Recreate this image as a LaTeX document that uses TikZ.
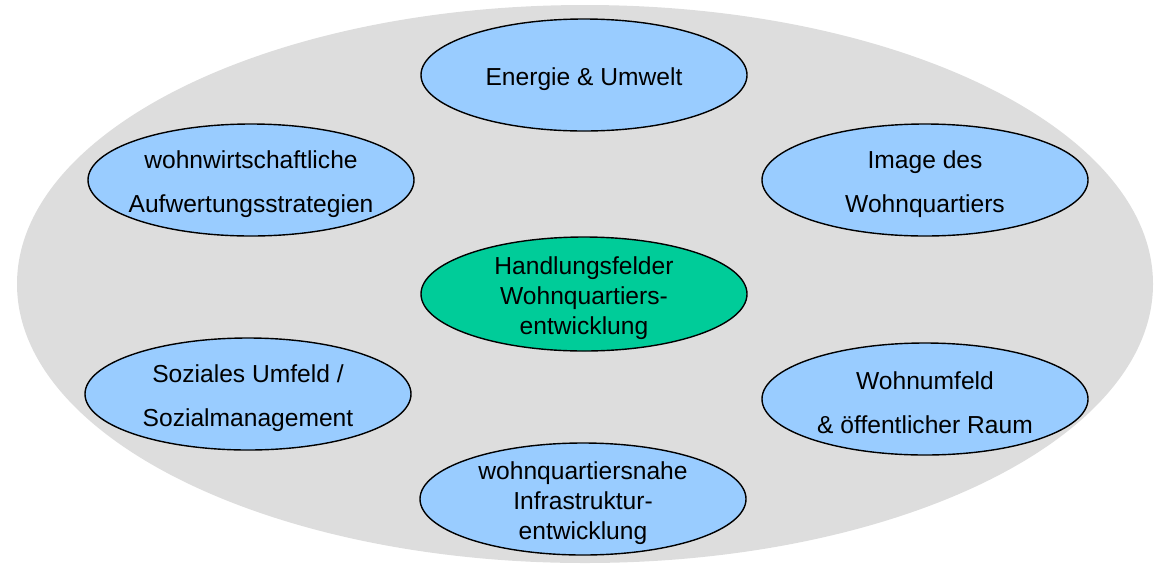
\documentclass[tikz,border=0pt]{standalone}
\usepackage{fontspec}
\setmainfont{Liberation Sans}
\usetikzlibrary{shapes.geometric}
\definecolor{bggray}{HTML}{DDDDDD}
\definecolor{fieldblue}{HTML}{99CCFF}
\definecolor{coregreen}{HTML}{00CC99}
\tikzset{
  field/.style={ellipse, draw=black, line width=1.4pt, fill=fieldblue,
    minimum width=326pt, minimum height=112pt, inner sep=0pt},
  core/.style={field, fill=coregreen, minimum height=114pt},
  fieldtext/.style={align=center, inner sep=0pt, yshift=-4pt,
    font=\fontsize{24.6}{44}\selectfont},
  tighttext/.style={fieldtext, font=\fontsize{24.6}{30}\selectfont}
}
\begin{document}
\begin{tikzpicture}[x=1pt,y=-1pt]
\useasboundingbox (0,0) rectangle (1162,566);
\begin{scope}
\clip (0,0) rectangle (1162,566);
\fill[bggray] (585,284) ellipse [x radius=568, y radius=279];
\end{scope}
\node[field] (energie) at (584,75) {};
\node[fieldtext] (energie-t) at (energie.center) {Energie \& Umwelt};
\node[field] (wohnw) at (251,180) {};
\node[fieldtext] (wohnw-t) at (wohnw.center) {wohnwirtschaftliche\\Aufwertungsstrategien};
\node[field] (image) at (925,180) {};
\node[fieldtext] (image-t) at (image.center) {Image des\\Wohnquartiers};
\node[core] (center) at (584,294) {};
\node[tighttext] (center-t) at (center.center) {Handlungsfelder\\Wohnquartiers-\\entwicklung};
\node[field] (sozial) at (248,394) {};
\node[fieldtext] (sozial-t) at (sozial.center) {Soziales Umfeld /\\Sozialmanagement};
\node[field] (umfeld) at (925,399) {};
\node[fieldtext] (umfeld-t) at (umfeld.center) {Wohnumfeld\\\& öffentlicher Raum};
\node[field] (infra) at (583,499) {};
\node[tighttext] (infra-t) at (infra.center) {wohnquartiersnahe\\Infrastruktur-\\entwicklung};
\end{tikzpicture}
\end{document}
